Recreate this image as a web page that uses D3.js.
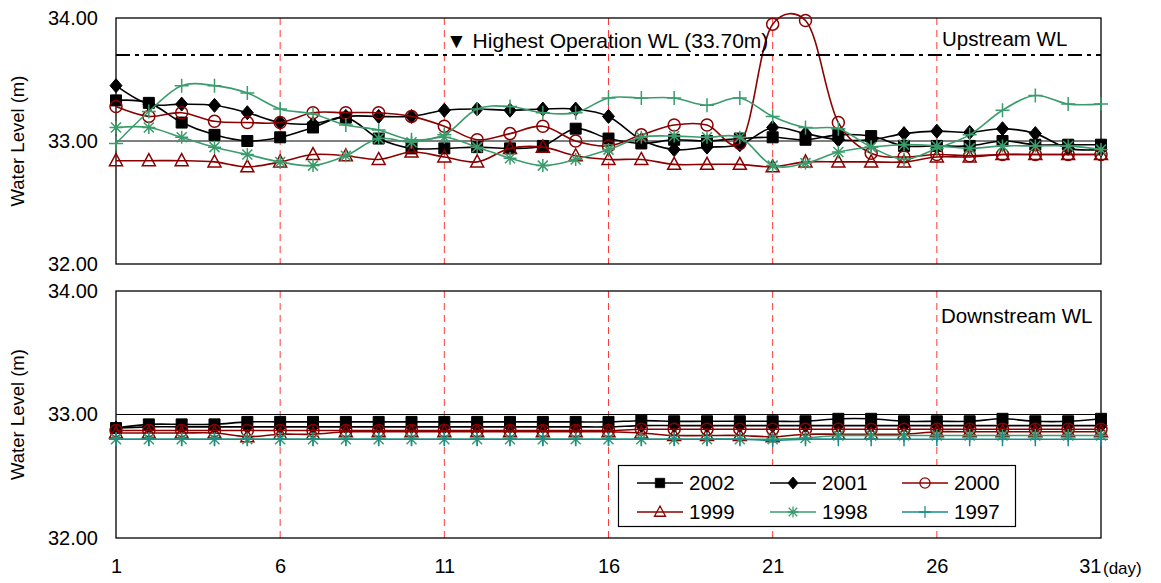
<!DOCTYPE html>
<html>
<head>
<meta charset="utf-8">
<script src="https://cdn.jsdelivr.net/npm/d3@7"></script>
<style>
  html, body { margin: 0; padding: 0; background: #fff; }
  svg { display: block; font-family: "Liberation Sans", Arial, sans-serif; }
</style>
</head>
<body>
<svg id="chart" width="1161" height="583"></svg>
<script>
// ---------------- DATA ----------------
const days = d3.range(1, 32);
const dayTicks = [1, 6, 11, 16, 21, 26, 31];
const yTicks = [32, 33, 34];
const highestWL = 33.70;
const years = ["2002", "2001", "2000", "1999", "1998", "1997"];

// Upstream water level (m)
const up2002 = [33.33,33.31,33.15,33.05,33.00,33.03,33.11,33.19,33.02,32.94,32.94,32.95,32.94,32.96,33.10,33.02,32.98,33.01,33.00,33.02,33.03,33.01,33.05,33.04,32.96,32.96,32.96,33.00,32.97,32.97,32.97];
const up2001 = [33.45,33.30,33.30,33.29,33.23,33.15,33.14,33.20,33.20,33.20,33.25,33.26,33.25,33.26,33.26,33.20,33.01,32.93,32.95,32.97,33.11,33.06,33.01,33.01,33.06,33.08,33.07,33.10,33.06,32.94,32.93];
const up2000 = [33.28,33.20,33.23,33.16,33.15,33.15,33.23,33.23,33.23,33.20,33.12,33.01,33.06,33.12,33.00,32.96,33.05,33.13,33.13,32.98,33.95,33.98,33.15,32.90,32.87,32.89,32.88,32.89,32.89,32.89,32.89];
const up1999 = [32.84,32.84,32.84,32.83,32.79,32.83,32.89,32.88,32.85,32.91,32.87,32.83,32.94,32.95,32.88,32.85,32.85,32.81,32.81,32.81,32.79,32.83,32.83,32.83,32.83,32.87,32.87,32.89,32.89,32.89,32.89];
const up1998 = [33.11,33.11,33.03,32.95,32.89,32.83,32.80,32.88,33.02,32.99,33.03,32.95,32.86,32.80,32.85,32.93,33.03,33.04,33.03,33.03,32.80,32.82,32.91,32.95,32.97,32.96,32.94,32.96,32.96,32.96,32.93];
const up1997 = [32.98,33.24,33.45,33.45,33.39,33.26,33.22,33.13,33.09,33.01,33.05,33.26,33.28,33.23,33.23,33.35,33.35,33.35,33.29,33.35,33.20,33.11,33.10,32.95,32.85,32.94,33.05,33.25,33.37,33.30,33.30];

// Downstream water level (m)
const lo2002 = [32.89,32.92,32.92,32.92,32.94,32.94,32.94,32.94,32.94,32.94,32.94,32.94,32.94,32.94,32.94,32.94,32.95,32.945,32.945,32.945,32.945,32.945,32.965,32.965,32.945,32.945,32.945,32.965,32.945,32.945,32.965];
const lo2001 = [32.89,32.90,32.90,32.90,32.90,32.90,32.90,32.90,32.90,32.90,32.90,32.90,32.90,32.90,32.90,32.90,32.91,32.91,32.91,32.91,32.91,32.91,32.91,32.91,32.91,32.91,32.91,32.91,32.91,32.91,32.91];
const lo2000 = [32.87,32.87,32.87,32.87,32.87,32.87,32.87,32.87,32.87,32.87,32.87,32.87,32.87,32.87,32.87,32.87,32.88,32.88,32.88,32.88,32.88,32.88,32.88,32.88,32.88,32.88,32.88,32.88,32.88,32.88,32.88];
const lo1999 = [32.85,32.85,32.85,32.85,32.82,32.84,32.84,32.86,32.86,32.86,32.86,32.86,32.86,32.86,32.86,32.86,32.85,32.83,32.83,32.83,32.82,32.84,32.84,32.84,32.84,32.86,32.86,32.86,32.86,32.86,32.86];
const lo1998 = [32.80,32.80,32.80,32.80,32.80,32.80,32.80,32.80,32.80,32.80,32.80,32.80,32.80,32.80,32.80,32.80,32.80,32.80,32.80,32.80,32.80,32.81,32.83,32.83,32.83,32.83,32.83,32.83,32.83,32.83,32.83];
const lo1997 = [32.80,32.80,32.80,32.80,32.80,32.80,32.80,32.80,32.80,32.80,32.80,32.80,32.80,32.80,32.80,32.80,32.80,32.80,32.80,32.80,32.79,32.80,32.80,32.80,32.80,32.80,32.80,32.80,32.80,32.80,32.80];

// ---------------- STYLE ----------------
const BLACK = "#000000", DRED = "#8b0000", GREEN = "#3a9c6c", TEAL = "#1a8c8c";
const styleOf = {
  "2002": {marker: "square"},
  "2001": {marker: "diamond"},
  "2000": {marker: "circle"},
  "1999": {marker: "triangle"},
  "1998": {marker: "asterisk"},
  "1997": {marker: "plus"}
};

const svg = d3.select("#chart");
const FONT = "20px";
const FAMILY = '"Liberation Sans", Arial, sans-serif';

const x = d3.scaleLinear().domain([1, 31]).range([116, 1101]);

function markerPath(type) {
  switch (type) {
    case "square": return d3.symbol(d3.symbolSquare, 121)();
    case "diamond": return "M0,-7L6,0L0,7L-6,0Z";
    case "triangle": return "M0,-7L6.5,5L-6.5,5Z";
    case "asterisk": return "M-6.5,0H6.5M0,-6.5V6.5M-5,-5L5,5M-5,5L5,-5";
    case "plus": return "M-7,0H7M0,-7V7";
  }
  return null;
}

function drawMarker(g, type, color) {
  if (type === "circle") {
    g.append("circle").attr("r", 6).attr("fill", "none").attr("stroke", color).attr("stroke-width", 1.5);
  } else {
    const filled = type === "square" || type === "diamond";
    g.append("path").attr("d", markerPath(type))
      .attr("fill", filled ? color : "none")
      .attr("stroke", color).attr("stroke-width", filled ? 1 : 1.5);
  }
}

function panel(y0, y1, series, colors) {
  const y = d3.scaleLinear().domain([32, 34]).range([y1, y0]);
  const g = svg.append("g");

  // red dashed day lines
  g.selectAll("line.vd").data([6, 11, 16, 21, 26]).join("line")
    .attr("x1", d => x(d)).attr("x2", d => x(d))
    .attr("y1", y0).attr("y2", y1)
    .attr("stroke", "#ff3b3b").attr("stroke-width", 1).attr("stroke-dasharray", "7,5");

  // 33.00 gridline
  g.append("line").attr("x1", x(1)).attr("x2", x(31))
    .attr("y1", y(33)).attr("y2", y(33)).attr("stroke", "#000").attr("stroke-width", 1);

  // frame
  g.append("rect").attr("x", x(1)).attr("y", y0).attr("width", x(31) - x(1)).attr("height", y1 - y0)
    .attr("fill", "none").attr("stroke", "#000").attr("stroke-width", 1.3);

  // y axis
  const ax = g.append("g").attr("transform", `translate(${x(1)},0)`)
    .call(d3.axisLeft(y).tickValues(yTicks).tickFormat(d3.format(".2f")).tickSize(0).tickPadding(18));
  ax.select(".domain").remove();
  ax.selectAll("text").attr("font-size", FONT).attr("fill", "#000").attr("font-family", FAMILY);

  // y label
  g.append("text").attr("transform", `translate(24,${(y0 + y1) / 2}) rotate(-90)`)
    .attr("text-anchor", "middle").attr("font-size", "18.5px").text("Water Level (m)");

  // series
  const line = d3.line().x((d, i) => x(days[i])).y(d => y(d)).curve(d3.curveCatmullRom.alpha(0.25));
  years.forEach((yr, k) => {
    const vals = series[k];
    const col = colors[yr];
    g.append("path").datum(vals).attr("d", line)
      .attr("fill", "none").attr("stroke", col).attr("stroke-width", 1.6);
    const mg = g.append("g");
    vals.forEach((v, i) => {
      const m = mg.append("g").attr("transform", `translate(${x(days[i])},${y(v)})`);
      drawMarker(m, styleOf[yr].marker, col);
    });
  });
  return {y, g};
}

// Upstream panel
const upColors = {"2002": BLACK, "2001": BLACK, "2000": DRED, "1999": DRED, "1998": GREEN, "1997": GREEN};
const U = panel(18, 264, [up2002, up2001, up2000, up1999, up1998, up1997], upColors);

// Highest operation WL line
svg.append("line").attr("x1", x(1)).attr("x2", x(31))
  .attr("y1", U.y(highestWL)).attr("y2", U.y(highestWL))
  .attr("stroke", "#000").attr("stroke-width", 2).attr("stroke-dasharray", "14,5,4,5");

svg.append("text").attr("x", 446).attr("y", 48).attr("font-size", "21px")
  .text("\u25BC Highest Operation WL (33.70m)");
svg.append("text").attr("x", 942).attr("y", 46).attr("font-size", "20.5px").text("Upstream WL");

// Downstream panel
const loColors = {"2002": BLACK, "2001": BLACK, "2000": DRED, "1999": DRED, "1998": GREEN, "1997": TEAL};
const L = panel(291, 538, [lo2002, lo2001, lo2000, lo1999, lo1998, lo1997], loColors);
svg.append("text").attr("x", 941).attr("y", 323).attr("font-size", "20.5px").text("Downstream WL");

// x axis
const xa = svg.append("g").attr("transform", `translate(0,538)`)
  .call(d3.axisBottom(x).tickValues(dayTicks).tickFormat(d3.format("d")).tickSize(0).tickPadding(21));
xa.select(".domain").remove();
xa.selectAll("text").attr("font-size", FONT).attr("fill", "#000").attr("font-family", FAMILY);
xa.selectAll("text").filter(d => d === 31).attr("text-anchor", "end");
svg.append("text").attr("x", 1103).attr("y", 574).attr("font-size", "17px").text("(day)");

// legend
const lg = svg.append("g");
lg.append("rect").attr("x", 618.5).attr("y", 465.5).attr("width", 397).attr("height", 61)
  .attr("fill", "#fff").attr("stroke", "#000").attr("stroke-width", 1.2);
const legColors = {"2002": BLACK, "2001": BLACK, "2000": DRED, "1999": DRED, "1998": GREEN, "1997": TEAL};
const colX = [637, 770, 902];
const rowY = [483, 512];
years.forEach((yr, i) => {
  const cx = colX[i % 3], cy = rowY[Math.floor(i / 3)];
  const col = legColors[yr];
  lg.append("line").attr("x1", cx).attr("x2", cx + 46).attr("y1", cy).attr("y2", cy)
    .attr("stroke", col).attr("stroke-width", 1.6);
  const m = lg.append("g").attr("transform", `translate(${cx + 23},${cy}) scale(0.85)`);
  drawMarker(m, styleOf[yr].marker, col);
  lg.append("text").attr("x", cx + 52).attr("y", cy + 7).attr("font-size", "20.5px").text(yr);
});
</script>
</body>
</html>
